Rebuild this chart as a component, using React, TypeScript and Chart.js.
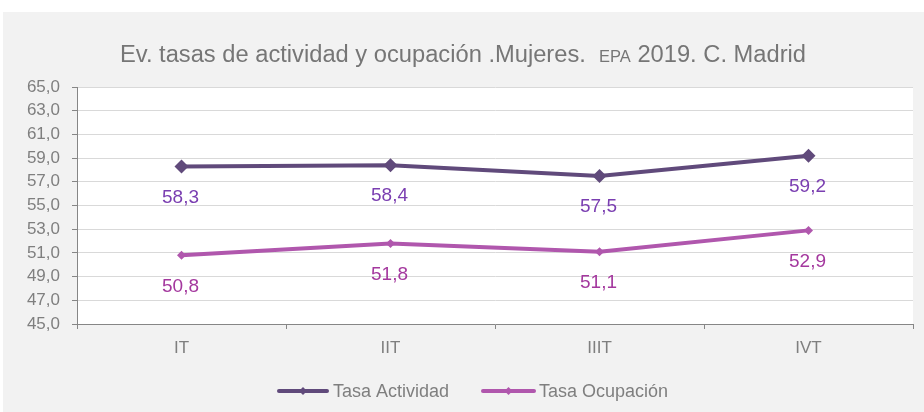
import React, { useEffect, useRef } from "react";
import { Chart, registerables } from "chart.js";

Chart.register(...registerables);

const categories = ["IT", "IIT", "IIIT", "IVT"];
const tasaActividad = [58.3, 58.4, 57.5, 59.2];
const tasaOcupacion = [50.8, 51.8, 51.1, 52.9];
const seriesNames = ["Tasa Actividad", "Tasa Ocupación"];
const yMin = 45;
const yMax = 65;
const yStep = 2;
const titleParts: [string, number][] = [
  ["Ev. tasas de actividad y ocupación .Mujeres.  ", 23],
  ["EPA", 16],
  [" 2019. C. Madrid", 23],
];

const lineColors = ["#604a7b", "#b057ad"];
const labelColors = ["#7a3eb1", "#a4389e"];
const FONT = "'Liberation Sans', Arial, sans-serif";

const fmt = (v: number) => v.toFixed(1).replace(".", ",");

const bgPlugin = {
  id: "bg",
  beforeDraw(chart: any) {
    const { ctx, chartArea: a } = chart;
    ctx.save();
    ctx.fillStyle = "#ffffff";
    ctx.fillRect(0, 0, chart.width, chart.height);
    ctx.fillStyle = "#f2f2f2";
    ctx.fillRect(3, 12, chart.width - 3, chart.height - 12);
    ctx.fillStyle = "#ffffff";
    ctx.fillRect(a.left, a.top, a.right - a.left, a.bottom - a.top);
    ctx.restore();
  },
};

const titlePlugin = {
  id: "customTitle",
  afterDraw(chart: any) {
    const { ctx } = chart;
    ctx.save();
    let total = 0;
    const widths: number[] = [];
    for (const [t, s] of titleParts) {
      ctx.font = `${s}px ${FONT}`;
      const w = ctx.measureText(t).width;
      widths.push(w);
      total += w;
    }
    const target = 686;
    const sx = target / total;
    const startX = 120;
    ctx.translate(startX, 62);
    ctx.scale(sx, 1);
    ctx.fillStyle = "#767676";
    ctx.textBaseline = "alphabetic";
    ctx.textAlign = "left";
    let x = 0;
    titleParts.forEach(([t, s], i) => {
      ctx.font = `${s}px ${FONT}`;
      ctx.fillText(t, x, 0);
      x += widths[i];
    });
    ctx.restore();
  },
};

const dataLabelPlugin = {
  id: "dataLabels",
  afterDatasetsDraw(chart: any) {
    const { ctx } = chart;
    ctx.save();
    ctx.font = `19px ${FONT}`;
    ctx.textAlign = "center";
    ctx.textBaseline = "middle";
    chart.data.datasets.forEach((ds: any, di: number) => {
      const meta = chart.getDatasetMeta(di);
      ctx.fillStyle = labelColors[di];
      meta.data.forEach((pt: any, i: number) => {
        ctx.fillText(fmt(ds.data[i]), pt.x - 1, pt.y + 31);
      });
    });
    ctx.restore();
  },
};

const legendPlugin = {
  id: "customLegend",
  afterDraw(chart: any) {
    const { ctx } = chart;
    ctx.save();
    const y = 391;
    const items = [
      { x0: 279, x1: 327, tx: 333 },
      { x0: 483, x1: 534, tx: 539 },
    ];
    items.forEach((it, i) => {
      ctx.strokeStyle = lineColors[i];
      ctx.lineWidth = 4;
      ctx.lineCap = "round";
      ctx.beginPath();
      ctx.moveTo(it.x0, y);
      ctx.lineTo(it.x1, y);
      ctx.stroke();
      const cx = (it.x0 + it.x1) / 2;
      ctx.fillStyle = lineColors[i];
      ctx.beginPath();
      ctx.moveTo(cx, y - 4);
      ctx.lineTo(cx + 4, y);
      ctx.lineTo(cx, y + 4);
      ctx.lineTo(cx - 4, y);
      ctx.closePath();
      ctx.fill();
      ctx.fillStyle = "#7f7f7f";
      ctx.font = `18px ${FONT}`;
      ctx.textAlign = "left";
      ctx.textBaseline = "middle";
      ctx.fillText(seriesNames[i], it.tx, y + 1);
    });
    ctx.restore();
  },
};

export default function App() {
  const ref = useRef<HTMLCanvasElement | null>(null);
  useEffect(() => {
    if (!ref.current) return;
    const chart = new Chart(ref.current, {
      type: "line",
      data: {
        labels: categories,
        datasets: [
          {
            label: seriesNames[0],
            data: tasaActividad,
            borderColor: lineColors[0],
            backgroundColor: lineColors[0],
            borderWidth: 4,
            pointStyle: "rectRot",
            pointRadius: 7,
            pointBorderWidth: 0,
            tension: 0,
          },
          {
            label: seriesNames[1],
            data: tasaOcupacion,
            borderColor: lineColors[1],
            backgroundColor: lineColors[1],
            borderWidth: 4,
            pointStyle: "rectRot",
            pointRadius: 4.5,
            pointBorderWidth: 0,
            tension: 0,
          },
        ],
      },
      options: {
        animation: false,
        responsive: false,
        devicePixelRatio: 1,
        layout: { padding: { left: 0, right: 11, top: 87, bottom: 0 } },
        plugins: {
          legend: { display: false },
          title: { display: false },
          tooltip: { enabled: false },
        },
        scales: {
          x: {
            offset: true,
            grid: {
              offset: true,
              drawOnChartArea: false,
              drawTicks: true,
              tickLength: 5,
              color: "#868686",
            },
            border: { color: "#868686", width: 1 },
            ticks: {
              color: "#7f7f7f",
              font: { family: FONT, size: 17 },
              padding: 9,
            },
            afterFit(scale: any) {
              scale.height = 88;
            },
          },
          y: {
            min: yMin,
            max: yMax,
            grid: {
              color: "#d9d9d9",
              lineWidth: 1,
              tickLength: 5,
              tickColor: "#868686",
            },
            border: { color: "#868686", width: 1 },
            ticks: {
              stepSize: yStep,
              color: "#7f7f7f",
              font: { family: FONT, size: 17 },
              padding: 12,
              callback: (v: any) => fmt(Number(v)),
            },
            afterFit(scale: any) {
              scale.width = 77;
            },
          },
        },
      },
      plugins: [bgPlugin, titlePlugin, dataLabelPlugin, legendPlugin],
    });
    return () => chart.destroy();
  }, []);
  return (
    <div style={{ position: "absolute", left: 0, top: 0, width: 924, height: 412 }}>
      <canvas ref={ref} width={924} height={412} style={{ display: "block" }} />
    </div>
  );
}
